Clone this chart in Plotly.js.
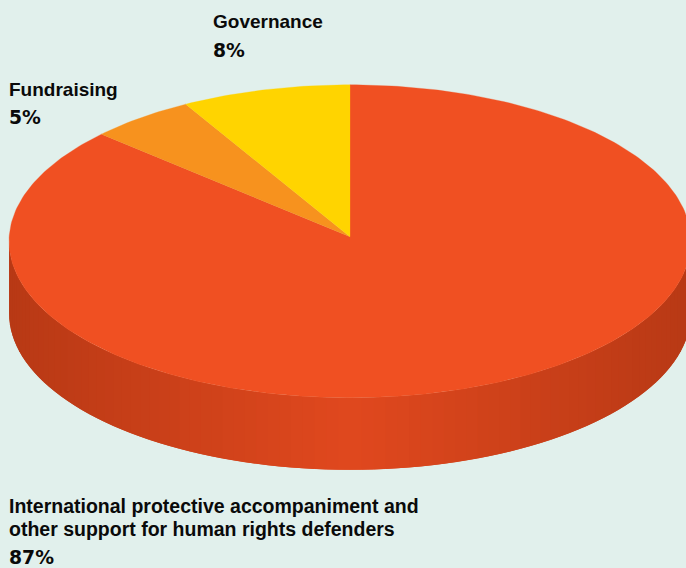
<!DOCTYPE html>
<html>
<head>
<meta charset="utf-8">
<script src="https://cdn.plot.ly/plotly-3.0.1.min.js"></script>
<style>html,body{margin:0;padding:0;background:#e1f0ec;overflow:hidden}</style>
</head>
<body>
<div id="chart" style="width:686px;height:568px"></div>
<script>
// Data
var categories = ["International protective accompaniment and other support for human rights defenders", "Fundraising", "Governance"];
var shares = [87, 5, 8];
var shareLabels = ["87%", "5%", "8%"];
var sliceColors = ["#f05022", "#f7921e", "#ffd400"];

// Projection of the tilted disc, in the axis units
var cx = 350, cy = 241.3, apexY = 236.8, rx = 341, ry = 156.5, depth = 72;
function px(deg){ return cx + rx * Math.sin(deg * Math.PI / 180); }
function py(deg){ return cy - ry * Math.cos(deg * Math.PI / 180); }

var traces = [];

// Side wall, shaded in narrow vertical bands; each band reaches under the next so no seam shows
var edge = [184, 57, 21], centre = [224, 72, 30], step = 2;
for (var a = 90; a < 270; a += step) {
  var k = Math.abs(px(a + step / 2) - cx) / rx;
  var c = edge.map(function(e, i){ return Math.round(centre[i] + (e - centre[i]) * k); });
  var col = "rgb(" + c.join(",") + ")";
  var b = Math.min(270, a + 2 * step), m = Math.min(270, a + step);
  traces.push({
    type: "scatter", mode: "lines", fill: "toself", fillcolor: col,
    x: [px(a), px(m), px(b), px(b), px(m), px(a), px(a)],
    y: [py(a), py(m), py(b), py(b) + depth, py(m) + depth, py(a) + depth, py(a)],
    line: {width: 0}, hoverinfo: "skip", showlegend: false
  });
}

// Top face, one wedge per share
var total = shares.reduce(function(s, v){ return s + v; }, 0);
var start = 0;
shares.forEach(function(v, i){
  var end = start + v / total * 360;
  var xs = [cx], ys = [apexY];
  var n = Math.max(2, Math.ceil(end - start));
  for (var j = 0; j <= n; j++) {
    var t = start + (end - start) * j / n;
    xs.push(px(t)); ys.push(py(t));
  }
  xs.push(cx); ys.push(apexY);
  traces.push({
    type: "scatter", mode: "lines", fill: "toself", fillcolor: sliceColors[i],
    x: xs, y: ys, name: categories[i],
    line: {color: sliceColors[i], width: 0.3}, hoverinfo: "name", showlegend: false
  });
  start = end;
});

function note(text, x, y, family, size){
  return {text: text, xref: "x", yref: "y", x: x, y: y, xanchor: "left", yanchor: "middle",
    showarrow: false, borderpad: 0, borderwidth: 0, align: "left",
    font: {family: family, size: size, color: "#0a0a0a", weight: 700}};
}
var labelFont = "Liberation Sans", pctFont = "DejaVu Sans", shortSize = 19, longSize = 19.5, pctSize = 18.8;
var annotations = [
  note("<b>Governance</b>", 213, 21, labelFont, shortSize),
  note("<b>" + shareLabels[2] + "</b>", 213, 50, pctFont, pctSize),
  note("<b>" + categories[1] + "</b>", 9, 89.5, labelFont, shortSize),
  note("<b>" + shareLabels[1] + "</b>", 9, 117.5, pctFont, pctSize),
  note("<b>International protective accompaniment and</b>", 9, 506, labelFont, longSize),
  note("<b>other support for human rights defenders</b>", 9, 528.5, labelFont, longSize),
  note("<b>" + shareLabels[0] + "</b>", 9, 557.5, pctFont, pctSize)
];

var axisBase = {visible: false, showgrid: false, zeroline: false, fixedrange: true};
var layout = {
  width: 686, height: 568,
  margin: {l: 0, r: 0, t: 0, b: 0},
  paper_bgcolor: "#e1f0ec", plot_bgcolor: "#e1f0ec",
  xaxis: Object.assign({range: [0, 686]}, axisBase),
  yaxis: Object.assign({range: [568, 0]}, axisBase),
  annotations: annotations,
  showlegend: false
};
Plotly.newPlot("chart", traces, layout, {displayModeBar: false, staticPlot: true});
</script>
</body>
</html>
